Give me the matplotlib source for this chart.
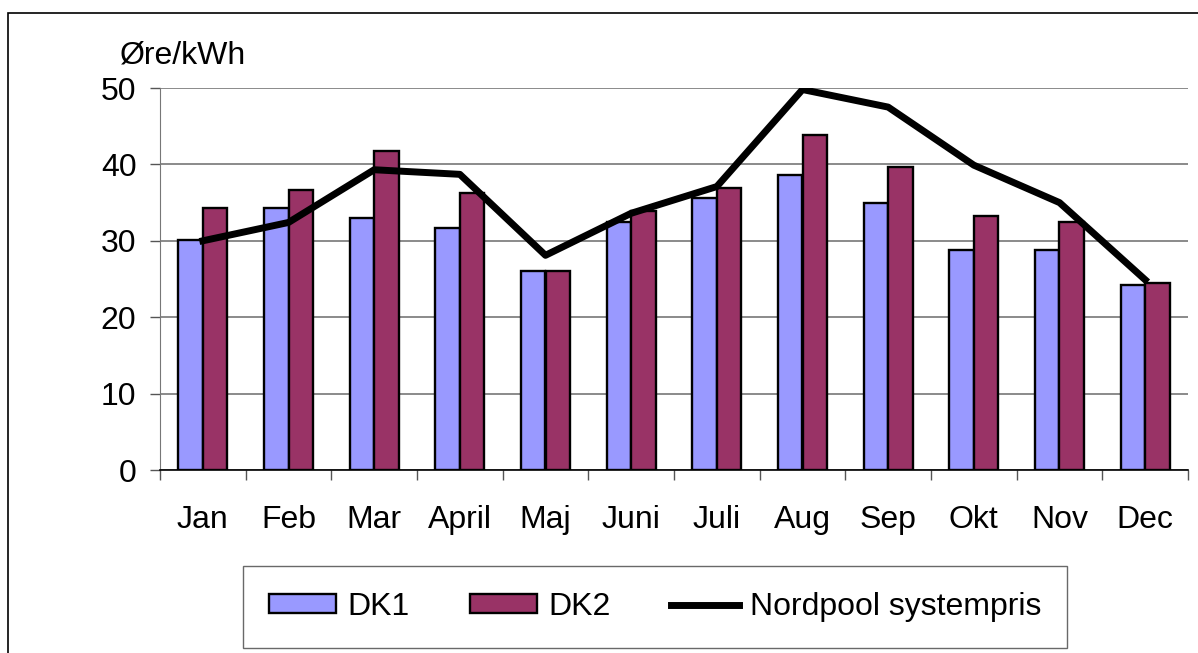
import numpy as np
import matplotlib.pyplot as plt
from matplotlib.patches import Rectangle

months = ["Jan", "Feb", "Mar", "April", "Maj", "Juni", "Juli", "Aug", "Sep", "Okt", "Nov", "Dec"]
dk1 = [30.1, 34.3, 33.0, 31.7, 26.1, 32.4, 35.6, 38.6, 35.0, 28.8, 28.8, 24.2]
dk2 = [34.3, 36.6, 41.8, 36.3, 26.1, 33.9, 36.9, 43.8, 39.6, 33.3, 32.4, 24.5]
nordpool = [30.0, 32.4, 39.3, 38.7, 28.1, 33.6, 37.1, 49.8, 47.5, 39.9, 35.0, 24.9]

plt.rcParams["font.family"] = ["Liberation Sans", "DejaVu Sans"]
FS = 23

W, H = 1198, 653
fig = plt.figure(figsize=(W / 100, H / 100), dpi=100)
ax = fig.add_axes([160 / W, 1 - 470 / H, 1028 / W, 382 / H])

x = np.arange(len(months))
bw = 0.286
b1 = ax.bar(x - bw / 2, dk1, bw, color="#9999FF", edgecolor="black", linewidth=1.7,
            label="DK1", zorder=3)
b2 = ax.bar(x + bw / 2, dk2, bw, color="#993366", edgecolor="black", linewidth=1.7,
            label="DK2", zorder=3)
ln, = ax.plot(x, nordpool, color="black", linewidth=5.0, label="Nordpool systempris",
              zorder=4)

ax.set_xlim(-0.5, len(months) - 0.5)
ax.set_ylim(0, 50)
ax.set_yticks(range(0, 51, 10))
ax.yaxis.grid(True, color="#777777", linewidth=1.2, zorder=0)
ax.set_axisbelow(True)

# labels at centers, tick marks at category boundaries
ax.set_xticks(x)
ax.set_xticklabels(months)
ax.set_xticks(np.arange(-0.5, len(months), 1.0), minor=True)
ax.tick_params(axis="x", which="major", length=0, pad=25, labelsize=FS)
ax.tick_params(axis="x", which="minor", length=7, width=1, color="#555555", direction="out")
ax.tick_params(axis="y", length=7, width=1, color="#555555", pad=10, labelsize=FS)

for s in ["top", "right"]:
    ax.spines[s].set_visible(False)
ax.spines["left"].set_color("#777777")
ax.spines["bottom"].set_color("black")
ax.spines["bottom"].set_linewidth(1.2)

fig.text(120 / W, 1 - 63 / H, "Øre/kWh", fontsize=FS, va="baseline", ha="left")

leg = ax.legend([b1, b2, ln], ["DK1", "DK2", "Nordpool systempris"],
                loc="center", bbox_to_anchor=(655 / W, 1 - 607 / H),
                bbox_transform=fig.transFigure, ncol=3, fontsize=FS,
                frameon=True, fancybox=False, edgecolor="#444444",
                handlelength=2.1, handleheight=0.55, columnspacing=1.9,
                handletextpad=0.35, borderpad=0.8)
leg.get_frame().set_linewidth(1.0)

# outer chart frame (cropped at right and bottom)
fig.add_artist(Rectangle((8 / W, -0.05), 1.1, 0.05 + 1 - 13 / H,
                         transform=fig.transFigure, fill=False,
                         edgecolor="black", linewidth=1.2))

fig.savefig("out.png", dpi=100)
